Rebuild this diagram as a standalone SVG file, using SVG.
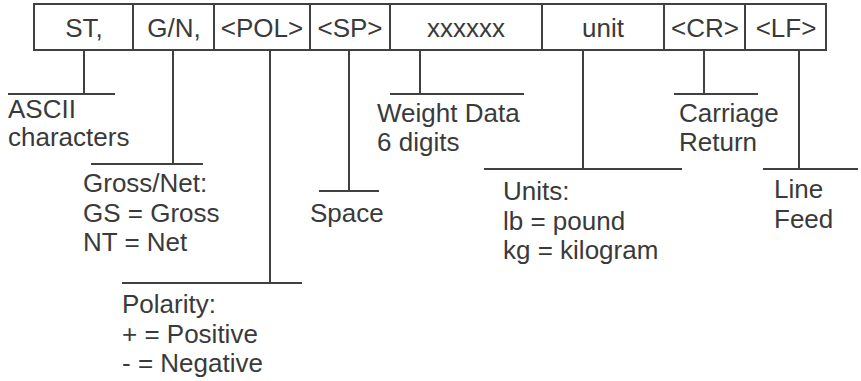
<svg xmlns="http://www.w3.org/2000/svg" width="861" height="381" viewBox="0 0 861 381">
<style>
text{font-family:"Liberation Sans",Arial,sans-serif;font-size:26px;fill:#3a3a3a}
.c{text-anchor:middle}
.s{stroke:#404040;stroke-width:2;fill:none}
</style>
<rect width="861" height="381" fill="#fff"/>
<g id="record">
<rect class="s" x="34" y="4" width="792" height="46"/>
<line class="s" x1="133" y1="4" x2="133" y2="50"/>
<line class="s" x1="214" y1="4" x2="214" y2="50"/>
<line class="s" x1="310" y1="4" x2="310" y2="50"/>
<line class="s" x1="390" y1="4" x2="390" y2="50"/>
<line class="s" x1="542" y1="4" x2="542" y2="50"/>
<line class="s" x1="664" y1="4" x2="664" y2="50"/>
<line class="s" x1="745" y1="4" x2="745" y2="50"/>
<text class="c" x="84" y="37">ST,</text>
<text class="c" x="174" y="37">G/N,</text>
<text class="c" x="262" y="37">&lt;POL&gt;</text>
<text class="c" x="350" y="37">&lt;SP&gt;</text>
<text class="c" x="466" y="37">xxxxxx</text>
<text class="c" x="603" y="37">unit</text>
<text class="c" x="705" y="37">&lt;CR&gt;</text>
<text class="c" x="786" y="37">&lt;LF&gt;</text>
</g>
<g id="connectors" class="s">
<line x1="84" y1="50" x2="84" y2="94"/><line x1="8" y1="94" x2="115" y2="94"/>
<line x1="173" y1="50" x2="173" y2="164"/><line x1="91" y1="164" x2="203" y2="164"/>
<line x1="270" y1="50" x2="270" y2="283"/><line x1="122" y1="283" x2="302" y2="283"/>
<line x1="349" y1="50" x2="349" y2="191"/><line x1="319" y1="191" x2="379" y2="191"/>
<line x1="420" y1="50" x2="420" y2="94"/><line x1="390" y1="94" x2="524" y2="94"/>
<line x1="583" y1="50" x2="583" y2="169"/><line x1="484" y1="169" x2="682" y2="169"/>
<line x1="704" y1="50" x2="704" y2="94"/><line x1="674" y1="94" x2="758" y2="94"/>
<line x1="799" y1="50" x2="799" y2="169"/><line x1="763" y1="169" x2="858" y2="169"/>
</g>
<g id="ascii"><text x="8" y="118">ASCII</text><text x="8" y="146">characters</text></g>
<g id="grossnet"><text x="83" y="192">Gross/Net:</text><text x="83" y="222">GS = Gross</text><text x="83" y="251">NT = Net</text></g>
<g id="polarity"><text x="122" y="313">Polarity:</text><text x="122" y="343">+ = Positive</text><text x="122" y="372">- = Negative</text></g>
<g id="space"><text x="310" y="222">Space</text></g>
<g id="weight"><text x="377" y="122">Weight Data</text><text x="377" y="151">6 digits</text></g>
<g id="units"><text x="503" y="200">Units:</text><text x="503" y="230">lb = pound</text><text x="503" y="259">kg = kilogram</text></g>
<g id="carriage"><text x="679" y="122">Carriage</text><text x="679" y="151">Return</text></g>
<g id="linefeed"><text x="774" y="198">Line</text><text x="774" y="228">Feed</text></g>
</svg>
